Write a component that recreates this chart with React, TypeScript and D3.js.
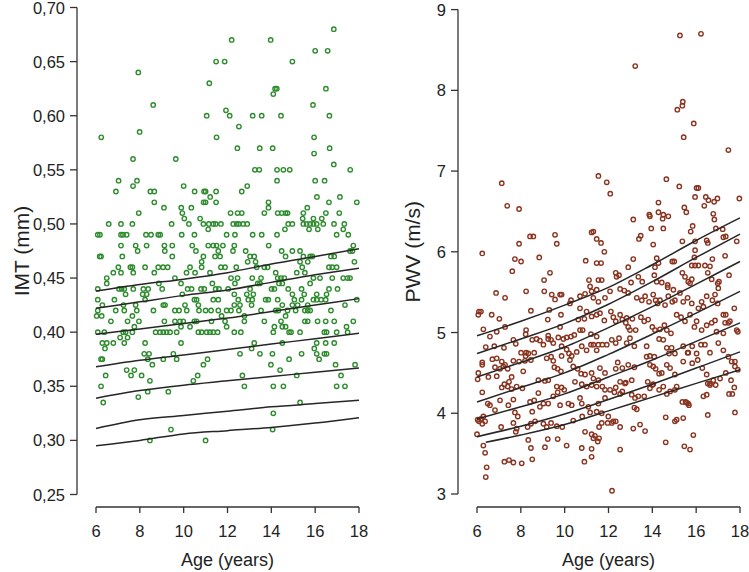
import React from "react";
import * as d3 from "d3";

// ---------- IMT panel data (value row -> ages) ----------
const imtRows: [number, number[]][] = [
  [0.68, [16.85]],
  [0.67, [12.19, 13.97]],
  [0.66, [16.0, 16.57]],
  [0.65, [11.48, 11.87, 14.96]],
  [0.64, [7.93]],
  [0.63, [11.17]],
  [0.625, [14.17, 14.25, 16.49]],
  [0.62, [14.09]],
  [0.61, [8.61, 15.9]],
  [0.605, [11.93]],
  [0.6, [11.05, 12.1, 13.15, 13.56, 14.44, 16.65]],
  [0.59, [12.52]],
  [0.585, [7.99]],
  [0.58, [6.24, 11.5, 15.95]],
  [0.57, [12.45, 13.47, 14.06, 16.66]],
  [0.565, [15.95]],
  [0.56, [7.69, 9.64]],
  [0.555, [16.85]],
  [0.55, [13.25, 13.45, 14.26, 14.55, 14.84, 17.6]],
  [0.54, [7.03, 7.87, 14.26, 16.0, 16.43]],
  [0.535, [7.69, 10.0, 12.9]],
  [0.53, [6.91, 8.48, 8.66, 10.5, 10.93, 11.0, 11.48, 12.65]],
  [0.525, [11.21, 16.08, 17.13]],
  [0.52, [8.66, 10.91, 11.0, 11.48, 13.87, 16.63, 17.9]],
  [0.515, [9.1, 9.89, 10.35, 13.87, 15.64]],
  [0.51, [7.95, 9.94, 12.14, 12.46, 12.65, 13.68, 14.29, 14.47, 14.65, 14.74, 15.46, 16.49, 17.1]],
  [0.505, [10.03, 10.75, 15.43, 15.92, 16.3]],
  [0.5, [6.58, 7.14, 7.66, 9.45, 10.24, 10.9, 11.15, 11.35, 11.46, 11.7, 12.26, 12.42, 12.52, 12.72, 12.9, 14.77, 14.96, 15.46, 15.61, 15.77, 15.92, 16.07, 16.37, 16.86, 17.33]],
  [0.495, [11.12, 14.62, 15.72, 16.12, 17.28]],
  [0.49, [6.08, 6.18, 7.14, 7.23, 7.4, 8.28, 8.51, 8.84, 8.93, 9.91, 10.49, 11.96, 12.34, 13.15, 13.56, 14.26, 16.98, 17.51]],
  [0.48, [7.14, 7.81, 8.31, 9.12, 9.48, 10.39, 11.12, 11.35, 11.5, 11.79, 12.31, 13.88, 17.74]],
  [0.475, [7.9, 9.14, 10.56, 11.58, 12.25, 12.83, 14.47, 14.96, 15.31, 17.59, 17.7]],
  [0.47, [6.17, 6.23, 7.2, 9.48, 10.9, 11.43, 11.66, 13.03, 13.22, 14.65, 15.46, 15.77, 15.87, 16.72, 16.87]],
  [0.465, [10.82, 12.92, 13.28, 15.31, 15.66, 17.79]],
  [0.46, [7.02, 7.57, 7.66, 8.24, 8.84, 9.06, 9.27, 10.29, 10.82, 11.7, 11.89, 12.4, 13.33, 13.68, 13.83, 15.41, 16.63, 16.78, 16.98]],
  [0.455, [6.79, 7.14, 7.7, 8.66, 10.13, 10.52, 11.2, 14.2, 15.16, 15.53]],
  [0.45, [6.49, 9.6, 12.16, 12.46, 13.13, 13.53, 14.29, 14.44, 14.59, 15.92, 16.22, 16.78, 17.28, 17.48, 17.59]],
  [0.445, [6.49, 8.87, 9.88, 11.31, 12.34, 13.38, 13.48, 14.35, 14.5, 15.77]],
  [0.44, [6.08, 7.05, 7.17, 7.29, 7.7, 8.16, 8.38, 9.02, 10.18, 10.36, 10.79, 10.94, 11.46, 11.61, 12.03, 13.03, 14.01, 14.14, 14.77, 15.38, 16.63, 17.02]],
  [0.435, [7.35, 8.13, 8.31, 9.94, 12.31, 12.88, 13.18, 14.96, 15.5, 16.07, 16.52]],
  [0.43, [6.08, 6.84, 8.24, 10.49, 10.59, 11.35, 11.58, 12.49, 12.95, 13.13, 13.74, 13.86, 14.29, 15.05, 15.38, 15.92, 16.07, 16.27, 16.48, 17.9]],
  [0.425, [6.29, 7.25, 7.81, 9.07, 9.15, 10.06, 10.67, 12.31, 12.57, 13.1, 14.5, 14.96, 15.2, 15.66, 17.36]],
  [0.42, [6.08, 6.9, 7.29, 7.86, 8.62, 9.6, 9.79, 10.14, 10.7, 11.0, 11.25, 11.58, 11.96, 12.16, 12.52, 13.53, 14.2, 14.32, 14.74, 15.11, 15.53, 15.66, 15.77, 16.72]],
  [0.415, [6.03, 6.26, 7.66, 11.73, 12.77, 14.65]],
  [0.41, [6.68, 7.44, 7.96, 9.12, 9.6, 9.83, 9.98, 10.49, 10.59, 11.27, 11.89, 12.77, 13.68, 14.44, 15.53, 15.66, 16.11, 16.48, 16.87, 17.74]],
  [0.405, [7.75, 9.88, 10.29, 11.96, 14.14, 14.5, 14.65, 17.43]],
  [0.4, [6.08, 6.38, 7.24, 7.35, 7.66, 8.72, 8.92, 9.07, 9.22, 9.38, 9.68, 10.67, 10.82, 11.05, 11.2, 11.35, 11.55, 12.31, 12.61, 14.09, 14.81, 14.9, 15.31, 16.42, 16.52, 16.98, 17.48]],
  [0.395, [7.1, 7.44]],
  [0.39, [6.29, 6.49, 6.79, 7.29, 8.24, 9.88, 13.22, 14.5, 16.07, 16.48, 16.87]],
  [0.385, [6.41, 13.1, 15.96]],
  [0.38, [8.2, 8.42, 9.53, 12.57, 13.48, 14.05, 15.38, 16.07, 16.42, 16.52]],
  [0.375, [6.23, 6.29, 8.36, 9.07, 9.68, 11.09, 14.81, 16.18]],
  [0.37, [8.57, 10.9, 13.98, 16.93, 17.82]],
  [0.365, [7.4, 7.75, 14.4]],
  [0.36, [6.44, 7.6, 8.08, 10.64, 12.68, 15.16, 17.18]],
  [0.355, [8.46, 10.44]],
  [0.35, [6.23, 12.77, 14.09, 14.55, 16.98, 17.36]],
  [0.345, [8.36, 9.3]],
  [0.34, [7.93]],
  [0.335, [6.33, 15.31]],
  [0.325, [14.09]],
  [0.31, [9.42, 14.06]],
  [0.3, [8.46, 11.0]],
];

// IMT percentile curves (values at ages)
const curveAges = [6, 8, 10, 12, 14, 16, 18];
const imtCurves: number[][] = [
  [0.438, 0.444, 0.449, 0.455, 0.463, 0.47, 0.477],
  [0.422, 0.428, 0.434, 0.439, 0.446, 0.453, 0.459],
  [0.398, 0.403, 0.408, 0.413, 0.419, 0.425, 0.431],
  [0.368, 0.374, 0.379, 0.384, 0.389, 0.394, 0.399],
  [0.339, 0.346, 0.351, 0.355, 0.359, 0.363, 0.367],
  [0.311, 0.319, 0.323, 0.327, 0.331, 0.334, 0.337],
  [0.295, 0.3, 0.306, 0.309, 0.312, 0.316, 0.321],
];

// ---------- PWV panel data [age, PWV] ----------
const pwvPoints: [number, number][] = [
  [7.13, 6.85], [7.38, 6.57], [7.92, 6.53], [8.42, 6.19], [8.57, 6.19], [9.56, 6.21], [11.23, 6.24], [11.31, 6.25], [11.54, 6.94], [11.46, 6.16],
  [15.26, 8.68], [16.22, 8.7], [13.22, 8.3], [15.39, 7.86], [15.37, 7.81], [15.14, 7.76], [15.89, 7.59], [15.43, 7.42], [17.47, 7.26], [11.92, 6.86],
  [12.08, 6.72], [14.64, 6.9], [15.23, 6.81], [16.02, 6.79], [16.1, 6.79], [15.95, 6.68], [16.44, 6.68], [16.56, 6.64], [16.82, 6.62], [16.97, 6.66],
  [17.97, 6.66], [14.28, 6.61], [15.46, 6.55], [15.55, 6.49], [16.37, 6.57], [16.78, 6.47], [16.83, 6.4], [13.86, 6.46], [13.89, 6.44], [14.28, 6.49],
  [14.5, 6.46], [14.73, 6.44], [14.47, 6.41], [13.13, 6.4], [13.95, 6.29], [14.5, 6.29], [15.84, 6.32], [15.75, 6.25], [16.9, 6.29], [17.21, 6.28],
  [13.47, 6.2], [13.39, 6.16], [17.35, 6.19],
  [9.64, 6.1], [7.92, 6.1], [6.24, 5.98], [7.73, 5.91], [8.01, 5.88], [8.84, 5.93], [10.96, 5.89], [11.46, 5.86], [7.61, 5.76], [9.33, 5.74],
  [9.06, 5.65], [11.11, 5.65], [11.54, 5.65], [6.87, 5.49], [7.28, 5.43], [8.24, 5.51], [9.07, 5.51], [9.41, 5.47], [9.56, 5.41], [9.79, 5.47],
  [9.86, 5.47], [10.29, 5.4], [10.24, 5.36], [10.7, 5.45], [10.93, 5.48], [11.16, 5.57], [11.23, 5.51], [11.46, 5.53], [11.31, 5.43], [11.54, 5.38],
  [6.09, 5.26], [6.18, 5.26], [6.06, 5.22], [6.67, 5.22], [7.02, 5.17], [8.46, 5.27], [9.3, 5.28], [9.83, 5.22], [10.7, 5.3], [11.0, 5.26],
  [10.62, 5.16], [10.9, 5.17], [11.23, 5.2], [11.46, 5.22], [9.23, 5.16], [9.79, 5.07], [6.29, 5.04], [6.59, 4.95], [6.9, 5.01], [7.28, 5.07],
  [6.4, 4.82], [6.79, 4.83], [7.23, 4.81], [7.66, 4.91], [7.77, 4.86], [8.24, 5.03], [8.22, 4.98], [8.52, 4.91], [8.72, 4.92], [8.87, 4.9],
  [9.03, 4.85], [9.25, 4.96], [9.25, 4.92], [9.38, 4.91], [9.48, 4.87], [9.71, 4.94], [9.94, 4.92], [10.09, 4.94], [10.29, 4.95], [10.44, 4.97],
  [10.7, 5.03], [10.82, 5.03], [11.2, 4.98], [11.46, 4.95], [11.31, 4.85],
  [8.01, 4.75], [8.24, 4.75], [8.61, 4.75], [9.86, 4.83], [10.09, 4.79], [10.2, 4.74], [10.32, 4.71], [10.55, 4.76], [10.24, 4.66], [9.86, 4.71],
  [10.78, 4.83], [11.0, 4.78], [11.2, 4.85], [11.46, 4.78], [6.24, 4.63], [6.24, 4.6], [6.7, 4.67], [6.9, 4.68], [7.13, 4.64], [7.28, 4.6],
  [7.66, 4.65], [6.82, 4.57], [7.05, 4.55], [7.2, 4.58], [7.4, 4.55], [8.22, 4.71], [8.34, 4.74], [7.92, 4.64], [8.19, 4.65], [8.46, 4.66],
  [9.18, 4.68], [9.38, 4.7], [9.48, 4.65], [9.53, 4.57], [9.68, 4.55], [9.83, 4.52], [10.39, 4.58], [10.59, 4.55], [10.75, 4.49], [10.93, 4.48],
  [11.23, 4.5], [11.31, 4.43],
  [6.06, 4.5], [6.03, 4.42], [6.52, 4.45], [6.9, 4.46], [7.58, 4.45], [7.46, 4.39], [7.25, 4.36], [7.13, 4.32], [7.4, 4.33], [7.58, 4.3],
  [8.11, 4.52], [8.8, 4.41], [9.1, 4.4], [9.25, 4.41], [9.64, 4.33], [9.86, 4.32], [9.98, 4.29], [9.68, 4.26], [10.47, 4.39], [10.78, 4.36],
  [11.0, 4.33], [11.23, 4.35], [11.46, 4.33], [6.24, 4.26], [6.49, 4.12], [6.59, 4.1], [6.82, 4.04], [7.05, 4.16], [7.43, 4.1], [7.66, 4.17],
  [7.81, 4.33], [8.07, 4.31], [8.42, 4.14], [8.61, 4.16], [8.8, 4.25], [9.03, 4.12], [9.25, 4.12], [9.48, 4.21], [8.87, 4.08], [8.52, 4.02],
  [9.79, 4.1], [10.17, 4.12], [10.32, 4.1], [10.7, 4.19], [10.78, 4.12], [11.08, 4.08], [11.16, 4.01], [11.46, 4.02],
  [6.03, 3.92], [6.09, 3.9], [6.18, 3.93], [6.29, 3.96], [6.37, 3.9], [6.24, 3.87], [7.1, 3.83], [7.73, 4.01], [7.86, 3.96], [7.66, 3.88],
  [7.81, 3.81], [7.77, 3.77], [8.31, 3.83], [8.46, 3.87], [8.65, 3.9], [8.34, 3.67], [9.03, 3.87], [9.18, 3.83], [9.38, 3.88], [9.64, 3.84],
  [9.89, 3.83], [10.39, 3.91], [10.8, 3.96], [10.93, 3.77], [11.23, 3.74], [11.31, 3.69], [11.38, 3.72], [6.0, 3.74], [6.29, 3.6], [6.37, 3.51],
  [8.46, 3.57], [9.1, 3.58], [9.23, 3.68], [9.68, 3.68], [10.09, 3.6], [10.78, 3.57], [11.23, 3.56], [11.23, 3.46], [7.25, 3.4], [7.46, 3.42],
  [7.66, 3.39], [8.04, 3.38], [8.52, 3.43], [10.9, 3.4], [6.44, 3.33], [6.4, 3.21], [12.16, 3.04],
  [14.04, 6.09], [15.37, 6.13], [15.95, 6.13], [16.48, 6.14], [16.53, 6.11], [17.24, 6.18], [17.85, 6.13], [11.81, 6.0], [11.66, 6.11], [13.13, 5.91],
  [14.2, 5.92], [14.28, 5.86], [14.12, 5.81], [14.91, 5.88], [15.0, 5.88], [15.95, 6.02], [15.92, 5.93], [15.95, 5.83], [15.8, 5.83], [16.1, 5.83],
  [16.4, 5.83], [16.63, 5.82], [16.74, 5.91], [17.32, 5.95], [17.5, 5.71], [11.66, 5.86], [12.33, 5.74], [12.48, 5.71], [12.37, 5.69], [12.9, 5.81],
  [13.36, 5.69], [13.54, 5.63], [13.03, 5.62], [14.09, 5.71], [14.2, 5.63], [14.43, 5.62], [14.7, 5.59], [14.7, 5.56], [14.96, 5.53], [15.37, 5.74],
  [15.49, 5.69], [15.64, 5.63], [15.72, 5.61], [15.8, 5.66], [16.53, 5.74], [16.71, 5.66], [16.98, 5.61], [17.04, 5.63], [17.01, 5.55], [11.69, 5.65],
  [11.84, 5.43], [12.07, 5.51], [12.53, 5.54], [12.72, 5.52], [12.9, 5.49], [13.29, 5.43], [13.52, 5.4], [13.67, 5.45], [13.85, 5.38], [14.04, 5.47],
  [14.15, 5.4], [14.24, 5.36], [14.35, 5.4], [14.58, 5.34], [14.73, 5.45], [14.91, 5.38], [15.03, 5.4], [15.26, 5.49], [15.41, 5.38], [15.61, 5.43],
  [15.8, 5.36], [16.1, 5.3], [16.25, 5.38], [16.33, 5.32], [16.48, 5.45], [16.74, 5.4], [16.86, 5.47], [16.98, 5.36], [17.24, 5.22], [17.35, 5.22],
  [17.47, 5.12], [17.74, 5.3], [17.9, 5.01], [11.61, 5.24], [11.81, 5.15],
  [12.11, 5.26], [12.22, 5.19], [12.33, 5.14], [12.53, 5.22], [12.63, 5.16], [12.79, 5.12], [12.9, 5.07], [12.83, 5.18], [13.09, 5.17], [12.98, 5.03],
  [13.24, 5.03], [13.48, 5.19], [13.63, 5.14], [13.81, 5.16], [14.0, 5.07], [14.12, 5.03], [14.35, 5.04], [14.55, 5.09], [14.66, 5.03], [14.85, 4.99],
  [15.11, 5.22], [15.31, 5.19], [15.49, 5.14], [15.72, 5.22], [15.92, 5.07], [16.02, 5.14], [16.25, 5.03], [16.48, 5.09], [16.71, 5.12], [16.86, 5.15],
  [16.93, 5.01], [17.24, 4.99], [17.32, 5.12], [17.54, 5.14], [17.85, 5.03],
  [11.54, 4.85], [11.72, 4.85], [11.92, 4.85], [12.15, 4.91], [12.33, 4.87], [12.48, 4.93], [12.83, 4.87], [12.98, 4.93], [13.18, 4.83], [13.74, 4.83],
  [13.89, 4.71], [14.09, 4.7], [14.31, 4.92], [14.5, 4.91], [14.66, 4.81], [14.76, 4.74], [15.03, 4.74], [14.88, 4.81], [15.41, 4.83], [15.64, 4.75],
  [15.82, 4.83], [16.02, 4.74], [16.22, 4.85], [16.4, 4.85], [16.63, 4.75], [17.01, 4.87], [17.24, 4.78], [17.47, 4.7], [17.77, 4.64],
  [11.61, 4.56], [11.84, 4.5], [11.54, 4.41], [11.72, 4.33], [11.84, 4.29], [12.33, 4.55], [12.42, 4.63], [12.63, 4.56], [12.9, 4.6], [13.18, 4.57],
  [13.06, 4.41], [12.75, 4.37], [12.53, 4.39], [13.74, 4.7], [13.89, 4.6], [14.04, 4.58], [14.15, 4.55], [14.31, 4.49], [14.43, 4.5], [14.66, 4.6],
  [14.81, 4.56], [15.03, 4.48], [13.79, 4.39], [14.0, 4.35], [15.41, 4.64], [15.61, 4.75], [15.82, 4.62], [16.07, 4.66], [16.28, 4.56], [16.48, 4.48],
  [16.63, 4.37], [16.78, 4.41], [17.09, 4.43], [17.35, 4.5], [17.62, 4.64], [17.77, 4.58], [17.9, 4.54],
  [11.54, 4.12], [11.84, 4.19], [12.07, 4.29], [12.27, 4.26], [12.33, 4.32], [12.53, 4.24], [12.63, 4.27], [12.79, 4.38], [13.06, 4.23], [13.21, 4.19],
  [13.36, 4.21], [13.63, 4.21], [13.89, 4.31], [14.04, 4.36], [14.31, 4.29], [14.5, 4.33], [14.66, 4.24], [14.81, 4.27], [15.03, 4.29], [15.11, 4.33],
  [15.37, 4.14], [15.57, 4.13], [15.67, 4.1], [16.33, 4.21], [16.53, 4.37], [16.63, 4.35], [16.89, 4.35], [17.59, 4.41], [17.74, 4.32], [17.65, 4.24],
  [17.5, 4.24],
  [11.51, 3.65], [11.57, 3.69], [11.69, 3.88], [11.96, 3.88], [12.15, 3.88], [12.33, 3.9], [12.53, 3.83], [12.22, 3.9], [11.99, 3.96], [11.57, 3.83],
  [11.69, 4.0], [13.13, 3.81], [13.44, 3.86], [13.67, 3.78], [13.18, 4.07], [13.29, 4.05], [14.61, 3.95], [15.03, 3.9], [15.11, 3.92], [15.41, 3.94],
  [15.52, 4.14], [15.64, 4.12], [14.61, 3.64], [15.46, 3.59], [15.72, 3.55], [15.87, 3.73], [16.53, 3.98], [17.77, 4.01], [16.48, 4.23], [12.53, 3.55],
];

// PWV percentile curves
const pwvCurveAges = [6, 8, 10, 12, 14, 16, 18];
const pwvCurves: number[][] = [
  [4.96, 5.14, 5.34, 5.56, 5.84, 6.14, 6.42],
  [4.74, 4.92, 5.11, 5.35, 5.63, 5.93, 6.22],
  [4.45, 4.63, 4.82, 5.06, 5.32, 5.6, 5.88],
  [4.14, 4.32, 4.5, 4.73, 4.98, 5.24, 5.51],
  [3.93, 4.08, 4.24, 4.45, 4.66, 4.89, 5.12],
  [3.71, 3.84, 3.99, 4.17, 4.36, 4.56, 4.76],
];
const pwvLowestAges = [6.4, 8, 10, 12, 14, 16, 18];
const pwvLowest = [3.64, 3.73, 3.86, 4.03, 4.2, 4.37, 4.54];

const xTicks = [6, 8, 10, 12, 14, 16, 18];
const imtTicks = [0.25, 0.3, 0.35, 0.4, 0.45, 0.5, 0.55, 0.6, 0.65, 0.7];
const pwvTicks = [3, 4, 5, 6, 7, 8, 9];

const FONT = "'Liberation Sans', Arial, sans-serif";
const GREEN = "#2e8c2e";
const BROWN = "#8a3420";
const LINE = "#262626";
const AXIS_COLOR = "#333";
const TEXT_COLOR = "#222";

const AXIS_Y = 507;

type PanelProps = {
  x: d3.ScaleLinear<number, number>;
  y: d3.ScaleLinear<number, number>;
  axisX: number;
  yTicks: number[];
  fmt: (v: number) => string;
  yTitle: string;
  yTitleX: number;
};

function Axes({ x, y, axisX, yTicks, fmt, yTitle, yTitleX }: PanelProps) {
  const [x0, x1] = x.range();
  const yTop = y(yTicks[yTicks.length - 1]);
  const yBot = y(yTicks[0]);
  const tc = (x0 + x1) / 2;
  const ymid = (yTop + yBot) / 2;
  return (
    <g fontFamily={FONT} fill={TEXT_COLOR}>
      <line x1={x0} x2={x1} y1={AXIS_Y} y2={AXIS_Y} stroke={AXIS_COLOR} strokeWidth={1.3} />
      {xTicks.map((t) => (
        <g key={"x" + t}>
          <line x1={x(t)} x2={x(t)} y1={AXIS_Y} y2={AXIS_Y + 6} stroke={AXIS_COLOR} strokeWidth={1.3} />
          <text x={x(t)} y={AXIS_Y + 30} textAnchor="middle" fontSize={16.5}>{t}</text>
        </g>
      ))}
      <text x={tc} y={AXIS_Y + 59} textAnchor="middle" fontSize={18}>Age (years)</text>
      <line x1={axisX} x2={axisX} y1={yTop} y2={yBot} stroke={AXIS_COLOR} strokeWidth={1.3} />
      {yTicks.map((t) => (
        <g key={"y" + t}>
          <line x1={axisX - 7} x2={axisX} y1={y(t)} y2={y(t)} stroke={AXIS_COLOR} strokeWidth={1.3} />
          <text x={axisX - 12} y={y(t) + 6} textAnchor="end" fontSize={16.5}>{fmt(t)}</text>
        </g>
      ))}
      <text
        transform={`translate(${yTitleX},${ymid}) rotate(-90)`}
        textAnchor="middle"
        fontSize={21}
      >
        {yTitle}
      </text>
    </g>
  );
}

export default function App() {
  const xL = d3.scaleLinear().domain([6, 18]).range([96, 359]);
  const yL = d3.scaleLinear().domain([0.25, 0.7]).range([494.5, 7.5]);
  const xR = d3.scaleLinear().domain([6, 18]).range([477, 740]);
  const yR = d3.scaleLinear().domain([3, 9]).range([494, 9.6]);

  const imtPts: [number, number][] = imtRows.flatMap(([v, ages]) => ages.map((a) => [a, v] as [number, number]));

  const lineL = d3.line<[number, number]>().x((d) => xL(d[0])).y((d) => yL(d[1])).curve(d3.curveMonotoneX);
  const lineR = d3.line<[number, number]>().x((d) => xR(d[0])).y((d) => yR(d[1])).curve(d3.curveMonotoneX);

  const fmtImt = (v: number) => d3.format(".2f")(v).replace(".", ",");

  return (
    <svg width={749} height={572} style={{ position: "absolute", left: 0, top: 0, background: "#fff" }}>
      <rect width={749} height={572} fill="#fff" />
      {/* Left panel */}
      <g>
        {imtPts.map((p, i) => (
          <circle key={i} cx={xL(p[0])} cy={yL(p[1])} r={2.2} fill="none" stroke={GREEN} strokeWidth={1.4} />
        ))}
        {imtCurves.map((c, i) => (
          <path key={i} d={lineL(curveAges.map((a, j) => [a, c[j]] as [number, number])) || ""} fill="none" stroke={LINE} strokeWidth={1.5} />
        ))}
        <Axes x={xL} y={yL} axisX={77} yTicks={imtTicks} fmt={fmtImt} yTitle="IMT (mm)" yTitleX={29} />
      </g>
      {/* Right panel */}
      <g>
        {pwvPoints.map((p, i) => (
          <circle key={i} cx={xR(p[0])} cy={yR(p[1])} r={2.2} fill="none" stroke={BROWN} strokeWidth={1.4} />
        ))}
        {pwvCurves.map((c, i) => (
          <path key={i} d={lineR(pwvCurveAges.map((a, j) => [a, c[j]] as [number, number])) || ""} fill="none" stroke={LINE} strokeWidth={1.5} />
        ))}
        <path d={lineR(pwvLowestAges.map((a, j) => [a, pwvLowest[j]] as [number, number])) || ""} fill="none" stroke={LINE} strokeWidth={1.5} />
        <Axes x={xR} y={yR} axisX={458} yTicks={pwvTicks} fmt={(v) => String(v)} yTitle="PWV (m/s)" yTitleX={420} />
      </g>
    </svg>
  );
}
